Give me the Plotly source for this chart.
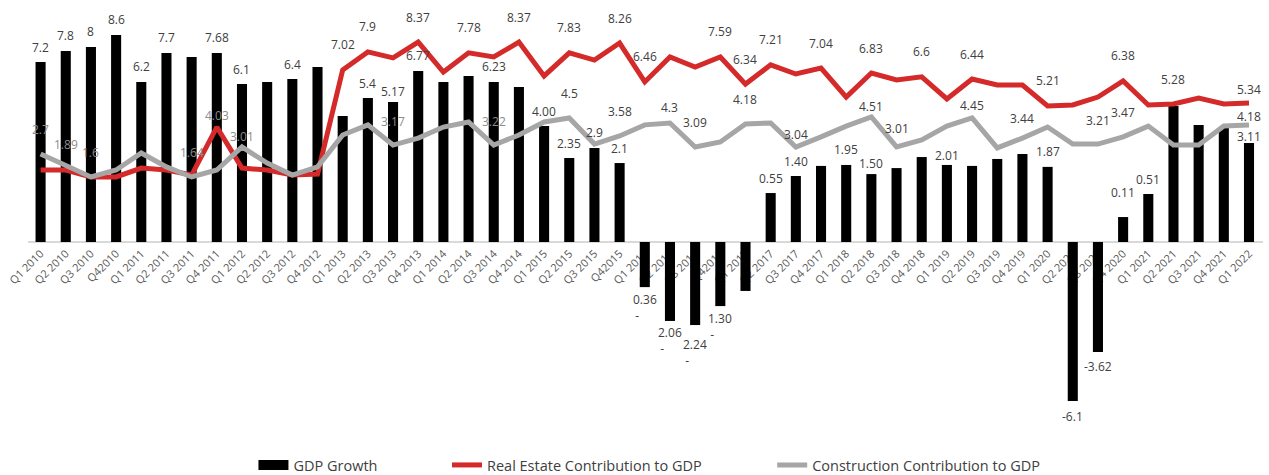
import plotly.graph_objects as go

# ---------------- data ----------------
quarters = [
    "Q1 2010", "Q2 2010", "Q3 2010", "Q42010",
    "Q1 2011", "Q2 2011", "Q3 2011", "Q4 2011",
    "Q1 2012", "Q2 2012", "Q3 2012", "Q4 2012",
    "Q1 2013", "Q2 2013", "Q3 2013", "Q4 2013",
    "Q1 2014", "Q2 2014", "Q3 2014", "Q4 2014",
    "Q1 2015", "Q2 2015", "Q3 2015", "Q42015",
    "Q1 2016", "Q2 2016", "Q3 2016", "Q42016",
    "Q1 2017", "Q2 2017", "Q3 2017", "Q4 2017",
    "Q1 2018", "Q2 2018", "Q3 2018", "Q4 2018",
    "Q1 2019", "Q2 2019", "Q3 2019", "Q4 2019",
    "Q1 2020", "Q2 2020", "Q3 2020", "Q4 2020",
    "Q1 2021", "Q2 2021", "Q3 2021", "Q4 2021",
    "Q1 2022",
]

gdp_growth = [
    7.50, 7.96, 8.13, 8.63,
    6.67, 7.88, 7.71, 7.88,
    6.58, 6.67, 6.79, 7.29,
    5.25, 6.00, 5.83, 7.13,
    6.67, 6.92, 6.67, 6.46,
    4.83, 3.50, 3.92, 3.29,
    -1.88, -3.29, -3.46, -2.67,
    -2.04, 2.04, 2.75, 3.17,
    3.21, 2.83, 3.08, 3.54,
    3.21, 3.17, 3.46, 3.67,
    3.13, -6.63, -4.58, 1.04,
    2.00, 5.67, 4.88, 4.75,
    4.13,
]

real_estate = [
    3.00, 3.00, 2.71, 2.71,
    3.08, 3.00, 2.79, 4.79,
    3.08, 3.00, 2.79, 2.83,
    7.17, 7.92, 7.67, 8.33,
    7.08, 7.88, 7.71, 8.33,
    6.92, 7.88, 7.58, 8.29,
    6.67, 7.71, 7.29, 7.71,
    6.58, 7.38, 7.00, 7.25,
    6.04, 7.04, 6.75, 6.88,
    5.96, 6.79, 6.54, 6.54,
    5.67, 5.71, 6.04, 6.71,
    5.71, 5.75, 6.00, 5.75,
    5.79,
]

construction = [
    3.67, 3.21, 2.71, 3.00,
    3.71, 3.13, 2.71, 3.00,
    3.96, 3.29, 2.79, 3.13,
    4.46, 4.88, 4.04, 4.33,
    4.79, 5.00, 4.04, 4.46,
    5.00, 5.17, 4.08, 4.42,
    4.88, 4.96, 3.96, 4.17,
    4.92, 4.96, 3.96, 4.38,
    4.83, 5.21, 3.96, 4.25,
    4.83, 5.17, 3.92, 4.33,
    4.79, 4.08, 4.08, 4.38,
    4.83, 4.04, 4.04, 4.83,
    4.88,
]

# data-label texts as printed on the chart ("" = no label)
gdp_labels = [
    "7.2", "7.8", "8", "8.6",
    "6.2", "7.7", "", "7.68",
    "6.1", "", "6.4", "",
    "", "5.4", "5.17", "6.77",
    "", "", "6.23", "",
    "4.00", "2.35", "2.9", "2.1",
    "-0.36", "-2.06", "-2.24", "-1.30",
    "", "0.55", "1.40", "",
    "1.95", "1.50", "", "",
    "2.01", "", "", "",
    "1.87", "-6.1", "-3.62", "0.11",
    "0.51", "", "", "",
    "3.11",
]

real_estate_labels = [
    "", "", "", "",
    "", "", "", "4.03",
    "", "", "", "",
    "7.02", "7.9", "", "8.37",
    "", "7.78", "", "8.37",
    "", "7.83", "", "8.26",
    "6.46", "", "", "7.59",
    "6.34", "7.21", "", "7.04",
    "", "6.83", "", "6.6",
    "", "6.44", "", "",
    "5.21", "", "", "6.38",
    "", "5.28", "", "",
    "5.34",
]

construction_labels = [
    "2.7", "1.89", "1.6", "",
    "", "", "1.64", "",
    "3.01", "", "", "",
    "", "", "3.17", "",
    "", "", "3.22", "",
    "", "4.5", "", "3.58",
    "", "4.3", "3.09", "",
    "4.18", "", "3.04", "",
    "", "4.51", "3.01", "",
    "", "4.45", "", "3.44",
    "", "", "3.21", "3.47",
    "", "", "", "",
    "4.18",
]

series_names = ["GDP Growth", "Real Estate Contribution to GDP",
                "Construction Contribution to GDP"]

# ---------------- style ----------------
BAR_COLOR = "#000000"
RED = "#d42a2a"
GRAY = "#a6a6a6"
LABEL_DARK = "#404040"
LABEL_LIGHT = "#8c8c8c"
FONT = "Open Sans"

W = 1269
VIEW_H = 475          # visible window height
FIG_H = 490           # figure slightly taller than the window
M_L, M_R, M_T = 25, 6, 10
M_B = FIG_H - VIEW_H  # plot area reaches the bottom of the window
PX_PER_UNIT = 24.0
ZERO_PX = 242         # pixel row of the zero line
plot_h = FIG_H - M_T - M_B
plot_w = W - M_L - M_R
y_max = (ZERO_PX - M_T) / PX_PER_UNIT
y_min = -(VIEW_H - ZERO_PX) / PX_PER_UNIT
axis_pos = (0 - y_min) / (y_max - y_min)

# label offsets in pixels (style)
BAR_OFF, RED_OFF, GRAY_OFF = 15, 25, 24
bar_off_override = {14: 11, 33: 11, 36: 9, 43: 25, 48: 6, 26: 22}
red_off_override = {7: 12, 48: 14}
gray_off_override = {1: 20, 8: 10, 25: 15, 30: 12, 33: 10, 34: 18, 37: 12, 39: 20, 48: 8}
light_red = {7}
light_gray = {0, 1, 2, 6, 8, 14, 18}
wrapped_minus = {24, 25, 26, 27}

# legend text start (px) for each series
LEGEND_TEXT_X = [293, 487, 813]
LEGEND_Y_PX = 465

fig = go.Figure()
fig.add_trace(go.Bar(
    x=quarters, y=gdp_growth, name=series_names[0], showlegend=False,
    marker=dict(color=BAR_COLOR, line=dict(width=0)),
))
# legend-only entry for the bars (wide black key like the original)
fig.add_trace(go.Scatter(
    x=[None], y=[None], mode="lines", name=series_names[0],
    line=dict(color=BAR_COLOR, width=12), legend="legend", hoverinfo="skip",
))
fig.add_trace(go.Scatter(
    x=quarters, y=real_estate, mode="lines", name=series_names[1],
    line=dict(color=RED, width=5), legend="legend2",
))
fig.add_trace(go.Scatter(
    x=quarters, y=construction, mode="lines", name=series_names[2],
    line=dict(color=GRAY, width=5), legend="legend3",
))

annotations = []
NB = "\u00a0"
for i, q in enumerate(quarters):
    t = gdp_labels[i]
    if t:
        off = bar_off_override.get(i, BAR_OFF)
        v = gdp_growth[i]
        if v < 0:
            if i in wrapped_minus:
                txt = t.lstrip("-") + "<br>-" + NB * 5
                shift = -(off + 5)
            else:
                txt = t
                shift = -off
        else:
            txt = t
            shift = off
        annotations.append(dict(x=q, y=v, text=txt, showarrow=False, yshift=shift,
                                font=dict(family=FONT, size=12, color=LABEL_DARK)))
    t = real_estate_labels[i]
    if t:
        annotations.append(dict(x=q, y=real_estate[i], text=t, showarrow=False,
                                yshift=red_off_override.get(i, RED_OFF),
                                font=dict(family=FONT, size=12,
                                          color=LABEL_LIGHT if i in light_red else LABEL_DARK)))
    t = construction_labels[i]
    if t:
        annotations.append(dict(x=q, y=construction[i], text=t, showarrow=False,
                                yshift=gray_off_override.get(i, GRAY_OFF),
                                font=dict(family=FONT, size=12,
                                          color=LABEL_LIGHT if i in light_gray else LABEL_DARK)))

legend_y = (VIEW_H - LEGEND_Y_PX) / plot_h


def legend_cfg(text_x):
    return dict(orientation="h", x=(text_x - 42 - M_L) / plot_w, xanchor="left",
                y=legend_y, yanchor="middle",
                font=dict(family=FONT, size=14.5, color=LABEL_DARK),
                bgcolor="rgba(0,0,0,0)", borderwidth=0)


fig.update_layout(
    width=W, height=FIG_H,
    margin=dict(l=M_L, r=M_R, t=M_T, b=M_B),
    paper_bgcolor="white", plot_bgcolor="white",
    bargap=0.6,
    font=dict(family=FONT, color=LABEL_DARK),
    showlegend=True,
    legend=legend_cfg(LEGEND_TEXT_X[0]),
    legend2=legend_cfg(LEGEND_TEXT_X[1]),
    legend3=legend_cfg(LEGEND_TEXT_X[2]),
    xaxis=dict(
        anchor="free", position=axis_pos,
        showline=True, linecolor="#d9d9d9", linewidth=2,
        showgrid=False, zeroline=False, ticks="",
        tickangle=-45, tickfont=dict(family=FONT, size=11, color="#595959"),
        layer="below traces",
    ),
    yaxis=dict(range=[y_min, y_max], showgrid=False, zeroline=False,
               showticklabels=False, showline=False, ticks=""),
    annotations=annotations,
)

fig.write_html(
    "out.html",
    config={"displayModeBar": False},
    post_script="document.body.style.margin='0px';document.body.style.overflow='hidden';",
)
